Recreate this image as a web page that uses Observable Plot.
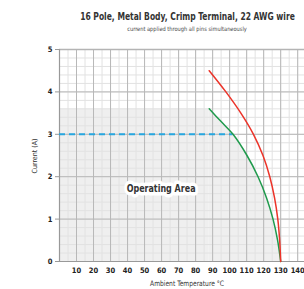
<!DOCTYPE html>
<html>
<head>
<meta charset="utf-8">
<script src="https://cdn.jsdelivr.net/npm/d3@7"></script>
<script src="https://cdn.jsdelivr.net/npm/@observablehq/plot@0.6"></script>
<style>
  html, body { margin: 0; padding: 0; background: #fff; }
  svg { display: block; }
</style>
</head>
<body>
<div id="chart"></div>
<script>
const title = "16 Pole, Metal Body, Crimp Terminal, 22 AWG wire";
const subtitle = "current applied through all pins simultaneously";
const xLabel = "Ambient Temperature °C";
const yLabel = "Current (A)";
const areaLabel = "Operating Area";

const xTicks = [10, 20, 30, 40, 50, 60, 70, 80, 90, 100, 110, 120, 130, 140];
const yTicks = [0, 1, 2, 3, 4, 5];

const redTemp    = [88, 97.8, 106.6, 114.0, 119.6, 123.6, 126.4, 128.3, 129.4, 130];
const redCurrent = [4.5, 4.0, 3.5, 3.0, 2.5, 2.0, 1.5, 1.0, 0.5, 0];

const greenTemp    = [88, 95, 102, 110.2, 116.7, 121.7, 125.5, 128.2, 130];
const greenCurrent = [3.6, 3.3, 3.0, 2.5, 2.0, 1.5, 1.0, 0.5, 0];

const shadeStartTemp = 0;
const shadeTop = 3.6;
const ratedCurrent = 3;
const ratedEndTemp = 102;

const red = redTemp.map((t, i) => ({t, c: redCurrent[i]}));
const green = greenTemp.map((t, i) => ({t, c: greenCurrent[i]}));

const minorX = d3.range(0, 145, 5);
const minorY = d3.range(0, 5.01, 0.2);
const majorX = [0, ...xTicks];

const FONT = '"DejaVu Sans Condensed", "Liberation Sans Narrow", sans-serif';

const plot = Plot.plot({
  width: 304,
  height: 289,
  marginLeft: 59,
  marginRight: 0,
  marginTop: 49,
  marginBottom: 28,
  style: {fontFamily: FONT, background: "#fff", overflow: "visible"},
  x: {domain: [0, 144]},
  y: {domain: [0, 5]},
  marks: [
    Plot.rect([{x1: shadeStartTemp, x2: greenTemp[0], y1: 0, y2: shadeTop}], {x1: "x1", x2: "x2", y1: "y1", y2: "y2", fill: "#efefef"}),
    Plot.areaY(green, {x: "t", y: "c", fill: "#efefef", curve: "catmull-rom"}),
    Plot.gridX(minorX, {stroke: "#e2e2e2", strokeOpacity: 1, strokeWidth: 1}),
    Plot.gridY(minorY, {stroke: "#e2e2e2", strokeOpacity: 1, strokeWidth: 1}),
    Plot.gridX(majorX, {stroke: "#b8b8b8", strokeOpacity: 1, strokeWidth: 1}),
    Plot.gridY(yTicks, {stroke: "#b8b8b8", strokeOpacity: 1, strokeWidth: 1}),
    Plot.ruleY([5], {stroke: "#b4b4b4", strokeWidth: 1.5}),
    Plot.ruleX([0], {stroke: "#999", strokeWidth: 1.2}),
    Plot.ruleY([0], {stroke: "#999", strokeWidth: 1.2}),
    Plot.axisX(xTicks, {tickSize: 0, tickPadding: 6, fontSize: 7.5, fontWeight: "bold", fill: "#222", label: null}),
    Plot.axisY(yTicks, {tickSize: 4, tickPadding: 3, fontSize: 7.5, fontWeight: "bold", fill: "#222", stroke: "#999", label: null}),
    Plot.ruleY([ratedCurrent], {x1: 0, x2: ratedEndTemp, stroke: "#27a6df", strokeWidth: 2, strokeDasharray: "6,4"}),
    Plot.line(green, {x: "t", y: "c", stroke: "#1f9a4c", strokeWidth: 1.5, curve: "catmull-rom"}),
    Plot.line(red, {x: "t", y: "c", stroke: "#ec3329", strokeWidth: 1.5, curve: "catmull-rom"}),
    Plot.text([areaLabel], {x: 59.7, y: 1.72, text: d => d, fontSize: 11, fontWeight: "bold", fill: "#333",
      stroke: "white", strokeWidth: 7, paintOrder: "stroke", className: "area-label"})
  ]
});

document.getElementById("chart").appendChild(plot);
const svg = d3.select(plot);

function addText(x, y, str, size, weight, fill, width) {
  const g = svg.append("g").attr("transform", `translate(${x},${y})`);
  const t = g.append("text").attr("text-anchor", "middle")
    .attr("font-family", FONT).attr("font-size", size).attr("font-weight", weight).attr("fill", fill).text(str);
  if (width) {
    const w = t.node().getComputedTextLength();
    if (w > 0) t.attr("transform", `scale(${width / w},1)`);
  }
  return t;
}

addText(187.5, 20, title, 11, "bold", "#333", 215);
addText(187, 31, subtitle, 6, "normal", "#444", 120);
addText(187, 286, xLabel, 7.5, "normal", "#333", 74);
svg.append("text").attr("transform", "translate(37,156) rotate(-90)").attr("text-anchor", "middle")
  .attr("font-family", FONT).attr("font-size", 7).attr("fill", "#333").text(yLabel);

svg.selectAll(".area-label text").each(function () {
  const w = this.getComputedTextLength();
  const tr = this.getAttribute("transform") || "";
  if (w > 0) this.setAttribute("transform", tr + ` scale(${69 / w},1)`);
});
</script>
</body>
</html>
